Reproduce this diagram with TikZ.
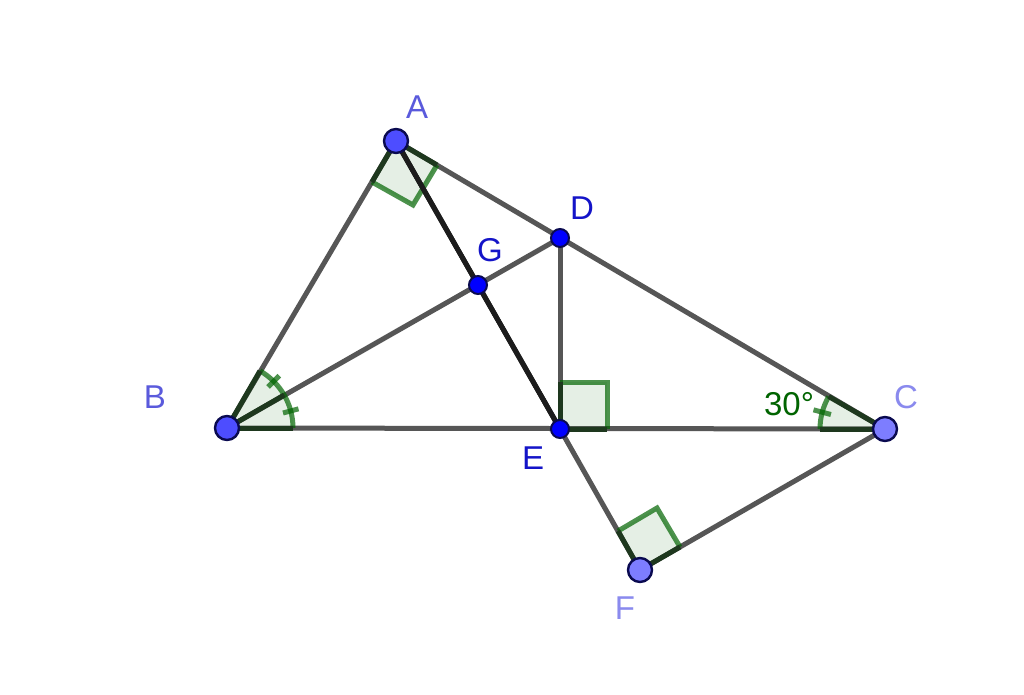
\documentclass[tikz,border=0pt]{standalone}
\usepackage{fontspec}
\usetikzlibrary{calc}
\setmainfont{Liberation Sans}
\definecolor{lineGray}{HTML}{565656}
\definecolor{lineDark}{HTML}{1C1C1C}
\definecolor{markGreen}{HTML}{006400}
\definecolor{overlapGreen}{HTML}{1E381E}
\definecolor{ptA}{HTML}{4D4DFF}
\definecolor{ptC}{HTML}{7D7DFF}
\definecolor{ptD}{HTML}{0000FF}
\definecolor{labA}{HTML}{5A5ADC}
\definecolor{labC}{HTML}{8A8AEE}
\definecolor{labD}{HTML}{1414C8}
\definecolor{ptEdge}{HTML}{0A0A50}
\tikzset{
  seg/.style={draw=lineGray,line width=5pt},
  segdark/.style={draw=lineDark,line width=5pt},
  anglefill/.style={fill=markGreen,fill opacity=.1,draw=none},
  angleline/.style={draw=markGreen,draw opacity=.7,line width=5pt,line join=miter},
  overlap/.style={draw=overlapGreen,line width=5pt},
  bigpoint/.style={circle,draw=ptEdge,line width=2.4pt,minimum size=24pt,inner sep=0pt},
  smallpoint/.style={circle,draw=ptEdge,line width=2pt,minimum size=18pt,inner sep=0pt,fill=ptD},
  lab/.style={font=\fontsize{33}{33}\selectfont,inner sep=0pt}
}
\begin{document}
\begin{tikzpicture}[x=1pt,y=-1pt]
\useasboundingbox[fill=white] (0,0) rectangle (1024,694);
\coordinate (A) at (396,141);
\coordinate (B) at (227,428);
\coordinate (C) at (885,429);
\coordinate (D) at (560,238);
\coordinate (E) at (560,429);
\coordinate (F) at (640,570);
\coordinate (G) at (478,285);
\coordinate (a1) at (372,182);
\coordinate (a2) at (413,205);
\coordinate (a3) at (437,165);
\coordinate (e1) at (560,382);
\coordinate (e2) at (607,382);
\coordinate (e3) at (607,429);
\coordinate (f1) at (618,531);
\coordinate (f2) at (657,508);
\coordinate (f3) at (680,547);
% segments
\draw[seg] (A) -- (B);
\draw[seg] (A) -- (C);
\draw[seg] (B) -- (C);
\draw[seg] (B) -- (D);
\draw[seg] (D) -- (E);
\draw[seg] (E) -- (F);
\draw[seg] (F) -- (C);
\draw[segdark] (A) -- (E);
% angle fills
\fill[anglefill] (A) -- (a1) -- (a2) -- (a3) -- cycle;
\fill[anglefill] (E) -- (e1) -- (e2) -- (e3) -- cycle;
\fill[anglefill] (F) -- (f1) -- (f2) -- (f3) -- cycle;
\fill[anglefill] (B) -- ++(66,0) arc[start angle=0,end angle=-60,radius=66] -- cycle;
\fill[anglefill] (C) -- ++(-65,0) arc[start angle=180,end angle=210,radius=65] -- cycle;
% angle outlines
\draw[angleline] (a1) -- (a2) -- (a3);
\draw[angleline] (e1) -- (e2) -- (e3);
\draw[angleline] (f1) -- (f2) -- (f3);
\draw[angleline] ($(B)+(66,0)$) arc[start angle=0,end angle=-60,radius=66];
\draw[angleline] ($(C)+(-65,0)$) arc[start angle=180,end angle=210,radius=65];
% ticks
\draw[angleline] ($(B)+(-15:58)$) -- ($(B)+(-15:74)$);
\draw[angleline] ($(B)+(-45:58)$) -- ($(B)+(-45:74)$);
\draw[angleline] ($(C)+(195:56)$) -- ($(C)+(195:74)$);
% darker overlap where angle sides lie on segments
\draw[overlap] (A) -- (a1);
\draw[overlap] (A) -- (a3);
\draw[overlap] (E) -- (e1);
\draw[overlap] (E) -- (e3);
\draw[overlap] (F) -- (f1);
\draw[overlap] (F) -- (f3);
\draw[overlap] (B) -- ++(66,0);
\draw[overlap] (B) -- ++(-30:66);
\draw[overlap] (B) -- ++(-60:66);
\draw[overlap] (C) -- ++(-65,0);
\draw[overlap] (C) -- ++(210:65);
\draw[segdark] (A) -- (E);
% points
\node[bigpoint,fill=ptA] (pA) at (A) {};
\node[bigpoint,fill=ptA] (pB) at (B) {};
\node[bigpoint,fill=ptC] (pC) at (C) {};
\node[bigpoint,fill=ptC] (pF) at (F) {};
\node[smallpoint] (pD) at (D) {};
\node[smallpoint] (pE) at (E) {};
\node[smallpoint] (pG) at (G) {};
% labels
\node[lab,text=labA] (lA) at (417,107) {A};
\node[lab,text=labA] (lB) at (155,397) {B};
\node[lab,text=labC] (lC) at (906,397) {C};
\node[lab,text=labD] (lD) at (582,208) {D};
\node[lab,text=labD] (lE) at (533,458) {E};
\node[lab,text=labC] (lF) at (625,608) {F};
\node[lab,text=labD] (lG) at (490,250) {G};
\node[lab,text=markGreen] (l30) at (789,404) {30°};
\end{tikzpicture}
\end{document}
